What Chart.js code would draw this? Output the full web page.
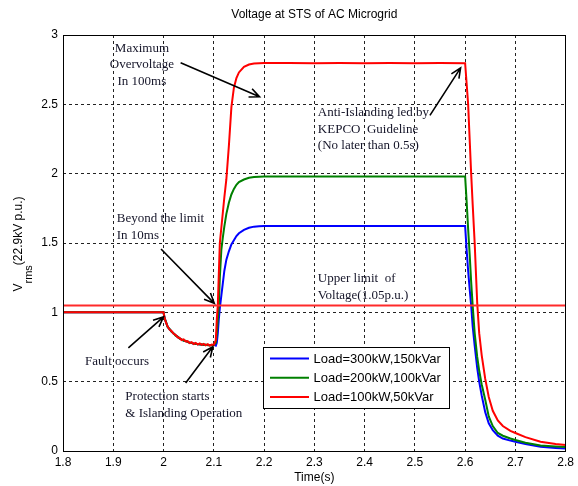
<!DOCTYPE html>
<html>
<head>
<meta charset="utf-8">
<script src="https://cdn.jsdelivr.net/npm/chart.js@4.4.1/dist/chart.umd.min.js"></script>
<style>
  html, body { margin: 0; padding: 0; background: #fff; }
</style>
</head>
<body>
<canvas id="chart" width="578" height="486"></canvas>
<script>
"use strict";

// time axis (s), shared by the three load cases
var time = [
    1.8, 1.85, 1.9, 1.95,
    2.0, 2.002, 2.005, 2.008, 2.012, 2.016, 2.02, 2.024, 2.028, 2.032, 2.036, 2.04,
    2.044, 2.048, 2.052, 2.056, 2.06, 2.064, 2.068, 2.072, 2.076, 2.08, 2.084, 2.088,
    2.092, 2.096,
    2.1, 2.104, 2.106, 2.108, 2.11, 2.112, 2.115, 2.118, 2.121, 2.125, 2.13, 2.135,
    2.14, 2.145, 2.15, 2.16, 2.17, 2.18, 2.19, 2.2,
    2.25, 2.3, 2.35, 2.4, 2.45, 2.5, 2.55,
    2.6, 2.603, 2.606, 2.609, 2.612, 2.615, 2.619, 2.624, 2.628, 2.633, 2.64, 2.647,
    2.655, 2.665, 2.675, 2.69, 2.7, 2.72, 2.75, 2.78, 2.8
];

// Load=100kW,50kVar
var vLight = [
    1.0, 1.0, 1.0, 1.0,
    1.0, 0.96, 0.925, 0.9, 0.875, 0.865, 0.845, 0.838, 0.82, 0.815, 0.8, 0.805,
    0.79, 0.792, 0.778, 0.785, 0.772, 0.78, 0.768, 0.776, 0.765, 0.772, 0.762, 0.77,
    0.76, 0.768,
    0.765, 0.8, 0.95, 1.05, 1.28, 1.5, 1.61, 1.72, 1.83, 1.96, 2.2, 2.48,
    2.62, 2.69, 2.73, 2.77, 2.787, 2.794, 2.797, 2.798,
    2.798, 2.797, 2.798, 2.797, 2.798, 2.797, 2.798,
    2.797, 2.65, 2.5, 2.25, 2.0, 1.78, 1.5, 1.07, 0.85, 0.69, 0.52, 0.39,
    0.29, 0.22, 0.18, 0.145, 0.13, 0.1, 0.067, 0.05, 0.043
];

// Load=200kW,100kVar
var vMedium = [
    1.0, 1.0, 1.0, 1.0,
    1.0, 0.958, 0.93, 0.895, 0.88, 0.86, 0.85, 0.832, 0.825, 0.81, 0.805, 0.795,
    0.795, 0.785, 0.782, 0.778, 0.776, 0.772, 0.772, 0.768, 0.77, 0.765, 0.768, 0.763,
    0.765, 0.762,
    0.765, 0.78, 0.85, 0.95, 1.05, 1.25, 1.45, 1.54, 1.62, 1.71, 1.79, 1.85,
    1.89, 1.92, 1.94, 1.958, 1.97, 1.976, 1.978, 1.979,
    1.979, 1.979, 1.979, 1.979, 1.979, 1.979, 1.979,
    1.979, 1.8, 1.6, 1.42, 1.22, 1.05, 0.85, 0.68, 0.58, 0.48, 0.37, 0.25,
    0.18, 0.13, 0.11, 0.09, 0.079, 0.06, 0.04, 0.032, 0.028
];

// Load=300kW,150kVar
var vHeavy = [
    1.0, 1.0, 1.0, 1.0,
    1.0, 0.96, 0.928, 0.898, 0.878, 0.862, 0.848, 0.835, 0.823, 0.812, 0.803, 0.797,
    0.792, 0.787, 0.78, 0.779, 0.774, 0.773, 0.77, 0.769, 0.767, 0.767, 0.765, 0.765,
    0.763, 0.764,
    0.765, 0.76, 0.78, 0.85, 0.95, 1.03, 1.12, 1.21, 1.3, 1.38, 1.44, 1.49,
    1.52, 1.55, 1.57, 1.595, 1.61, 1.618, 1.621, 1.622,
    1.622, 1.622, 1.622, 1.622, 1.622, 1.622, 1.622,
    1.622, 1.45, 1.3, 1.17, 1.05, 0.9, 0.76, 0.6, 0.5, 0.4, 0.28, 0.2,
    0.15, 0.11, 0.09, 0.075, 0.067, 0.05, 0.03, 0.022, 0.018
];

// upper limit of voltage (1.05 p.u.)
var limitTime = [1.8, 2.8];
var limitValue = [1.05, 1.05];

var seriesLabels = ["Load=300kW,150kVar", "Load=200kW,100kVar", "Load=100kW,50kVar"];
var seriesColors = ["#0000ff", "#008000", "#ff0000"];

var xTicks = [1.8, 1.9, 2.0, 2.1, 2.2, 2.3, 2.4, 2.5, 2.6, 2.7, 2.8];
var yTicks = [0, 0.5, 1, 1.5, 2, 2.5, 3];

function pairs(xs, ys) {
    return xs.map(function (x, i) { return {x: x, y: ys[i]}; });
}

// text notes, anchored in data units (t, p.u.), arrows from -> to
var notes = [
    {lines: ["Maximum", "Overvoltage", "In 100ms"], t: 1.957, v: 2.905, align: "center",
     arrow: [2.034, 2.80, 2.191, 2.554]},
    {lines: ["Anti-Islanding led by", "KEPCO  Guideline", "(No later than 0.5s)"], t: 2.307, v: 2.439, align: "left",
     arrow: [2.530, 2.42, 2.591, 2.763]},
    {lines: ["Beyond the limit", "In 10ms"], t: 1.907, v: 1.674, align: "left",
     arrow: [1.995, 1.457, 2.101, 1.065]},
    {lines: ["Upper limit  of", "Voltage(1.05p.u.)"], t: 2.307, v: 1.241, align: "left"},
    {lines: ["Fault occurs"], t: 1.844, v: 0.642, align: "left",
     arrow: [1.930, 0.743, 2.0, 0.967]},
    {lines: ["Protection starts", "& Islanding Operation"], t: 1.924, v: 0.390, align: "left",
     arrow: [2.044, 0.491, 2.098, 0.752]}
];

function arrow(ctx, x1, y1, x2, y2) {
    var a = Math.atan2(y2 - y1, x2 - x1), h = 11, w = 0.42;
    ctx.beginPath();
    ctx.moveTo(x1, y1);
    ctx.lineTo(x2, y2);
    ctx.moveTo(x2 - h * Math.cos(a - w), y2 - h * Math.sin(a - w));
    ctx.lineTo(x2, y2);
    ctx.lineTo(x2 - h * Math.cos(a + w), y2 - h * Math.sin(a + w));
    ctx.stroke();
}

var decorations = {
    id: "decorations",
    afterDraw: function (chart) {
        var ctx = chart.ctx, area = chart.chartArea;
        var xs = chart.scales.x, ys = chart.scales.y;
        ctx.save();

        // axes box
        ctx.strokeStyle = "#000";
        ctx.lineWidth = 1;
        ctx.setLineDash([]);
        ctx.strokeRect(Math.round(area.left) + 0.5, Math.round(area.top) + 0.5,
            Math.round(area.right - area.left) - 1, Math.round(area.bottom - area.top));

        // title
        ctx.fillStyle = "#000";
        ctx.font = "12px 'Liberation Sans', Arial, sans-serif";
        ctx.textAlign = "center";
        ctx.textBaseline = "middle";
        ctx.fillText("Voltage at STS of AC Microgrid", (area.left + area.right) / 2, 15);

        // y axis title with subscript
        var main = "V", sub = "rms", rest = "(22.9kV p.u.)";
        var fMain = "12px 'Liberation Sans', Arial, sans-serif";
        var fSub = "11px 'Liberation Sans', Arial, sans-serif";
        ctx.font = fMain;
        var wV = ctx.measureText(main).width, wR = ctx.measureText(rest).width;
        ctx.font = fSub;
        var wS = ctx.measureText(sub).width;
        var total = wV + wS + wR;
        ctx.translate(22, (area.top + area.bottom) / 2 + 1);
        ctx.rotate(-Math.PI / 2);
        ctx.textAlign = "left";
        ctx.textBaseline = "alphabetic";
        var px = -total / 2;
        ctx.font = fMain;
        ctx.fillText(main, px, 0);
        ctx.font = fSub;
        ctx.fillText(sub, px + wV, 10);
        ctx.font = fMain;
        ctx.fillText(rest, px + wV + wS, 0);
        ctx.setTransform(1, 0, 0, 1, 0, 0);

        // notes and arrows
        ctx.font = "13px 'Liberation Serif', 'Times New Roman', serif";
        ctx.textBaseline = "middle";
        ctx.fillStyle = "#141428";
        ctx.strokeStyle = "#000";
        ctx.lineWidth = 1.6;
        notes.forEach(function (n) {
            var x = xs.getPixelForValue(n.t), y = ys.getPixelForValue(n.v);
            ctx.textAlign = n.align;
            n.lines.forEach(function (line, i) {
                ctx.fillText(line, x, y + i * 16.5);
            });
            if (n.arrow) {
                arrow(ctx, xs.getPixelForValue(n.arrow[0]), ys.getPixelForValue(n.arrow[1]),
                    xs.getPixelForValue(n.arrow[2]), ys.getPixelForValue(n.arrow[3]));
            }
        });

        // legend box inside the axes
        var lx = 263.5, ly = 347.5, lw = 186, lh = 61;
        ctx.fillStyle = "#fff";
        ctx.fillRect(lx, ly, lw, lh);
        ctx.strokeStyle = "#000";
        ctx.lineWidth = 1;
        ctx.strokeRect(lx, ly, lw, lh);
        ctx.font = "13px 'Liberation Sans', Arial, sans-serif";
        ctx.textAlign = "left";
        ctx.fillStyle = "#000";
        seriesLabels.forEach(function (label, i) {
            var yy = ly + 11 + i * 19.2;
            ctx.strokeStyle = seriesColors[i];
            ctx.lineWidth = 2;
            ctx.beginPath();
            ctx.moveTo(lx + 6.5, yy);
            ctx.lineTo(lx + 45.5, yy);
            ctx.stroke();
            ctx.fillText(label, lx + 50, yy + 1);
        });
        ctx.restore();
    }
};

var ctx = document.getElementById("chart").getContext("2d");

var chart = new Chart(ctx, {
    type: "line",
    data: {
        datasets: [
            {
                label: "Upper limit",
                data: pairs(limitTime, limitValue),
                borderColor: "#ff2a2a",
                borderWidth: 2,
            },
            {
                label: seriesLabels[2],
                data: pairs(time, vLight),
                borderColor: seriesColors[2],
                borderWidth: 2,
            },
            {
                label: seriesLabels[1],
                data: pairs(time, vMedium),
                borderColor: seriesColors[1],
                borderWidth: 2,
            },
            {
                label: seriesLabels[0],
                data: pairs(time, vHeavy),
                borderColor: seriesColors[0],
                borderWidth: 2,
            },
        ],
    },
    options: {
        responsive: false,
        animation: false,
        devicePixelRatio: 1,
        layout: {padding: {top: 35, right: 5, left: 0, bottom: 0}},
        elements: {point: {radius: 0}, line: {tension: 0}},
        plugins: {
            legend: {display: false},
            tooltip: {enabled: false},
        },
        scales: {
            x: {
                type: "linear",
                min: 1.8,
                max: 2.8,
                afterBuildTicks: function (scale) {
                    scale.ticks = xTicks.map(function (v) { return {value: v}; });
                },
                afterFit: function (scale) { scale.height = 35; },
                ticks: {
                    color: "#000",
                    padding: 4,
                    maxRotation: 0,
                    font: {family: "'Liberation Sans', Arial, sans-serif", size: 12},
                    callback: function (v) { return String(+v.toFixed(1)); },
                },
                grid: {
                    color: function (c) {
                        return (c.tick && (c.tick.value === 1.8 || c.tick.value === 2.8)) ? "rgba(0,0,0,0)" : "#222";
                    },
                    lineWidth: 1,
                    drawTicks: false,
                },
                border: {display: false, dash: [3, 3]},
                title: {
                    display: true,
                    text: "Time(s)",
                    color: "#000",
                    padding: {top: 0, bottom: 1},
                    font: {family: "'Liberation Sans', Arial, sans-serif", size: 12},
                },
            },
            y: {
                min: 0,
                max: 3,
                afterBuildTicks: function (scale) {
                    scale.ticks = yTicks.map(function (v) { return {value: v}; });
                },
                afterFit: function (scale) { scale.width = 63; },
                ticks: {
                    color: "#000",
                    padding: 5,
                    font: {family: "'Liberation Sans', Arial, sans-serif", size: 12},
                    callback: function (v) { return String(v); },
                },
                grid: {
                    color: function (c) {
                        return (c.tick && (c.tick.value === 0 || c.tick.value === 3)) ? "rgba(0,0,0,0)" : "#222";
                    },
                    lineWidth: 1,
                    drawTicks: false,
                },
                border: {display: false, dash: [3, 3]},
            },
        },
    },
    plugins: [decorations],
});
</script>
</body>
</html>
